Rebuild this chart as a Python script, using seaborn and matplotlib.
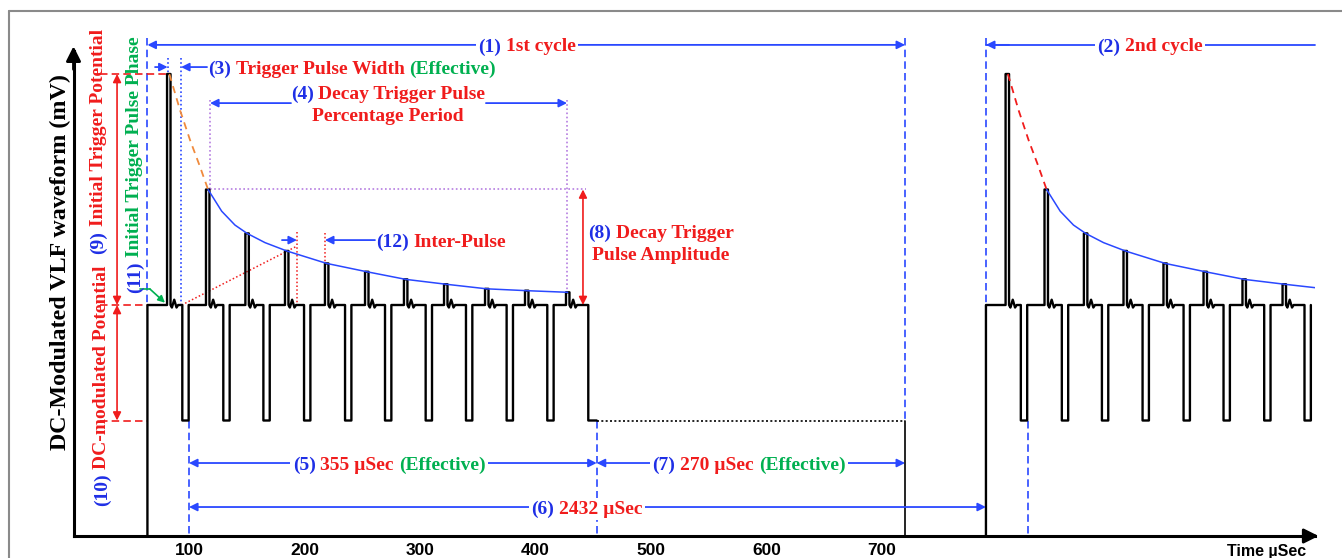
import numpy as np
import pandas as pd
import matplotlib
matplotlib.use("Agg")
import matplotlib.pyplot as plt
import seaborn as sns
from matplotlib.transforms import ScaledTranslation
from matplotlib.patches import Rectangle
from matplotlib.lines import Line2D

# ---------------- data (time in µSec, potential in mV-like units) ----------------
dc_level = 100
low_level = 50
cycle_starts = [64, 790]
peak_times = [81.0, 114.7, 148.8, 183.1, 217.7, 252.4, 286.1, 320.8, 356.3, 390.9, 426.4]
peak_heights = [200, 150, 131.0, 123.4, 118.0, 114.4, 111.1, 109.0, 107.0, 106.2, 105.5]
neg_times = [94.2, 129.7, 164.4, 199.6, 235.1, 269.7, 304.9, 339.8, 375.0, 410.2, 445.7]
pulse_width = 3.0
neg_width = 5.5
ring_dx = [1.2, 3.2, 5.2, 6.6]
ring_dy = [-1.1, 2.3, -1.1, 0.0]
burst_end = 453
cycle1_end = 720
cycle2_pulses = 8
axis_end_x = 1075
axis_end_y = 210
env_x = [116.5, 128.3, 139.8, 150.3, 165.8, 184.6, 219.2, 253.9, 287.6, 322.3, 357.8, 392.4, 427.9]
env_y = [150.0, 140.6, 134.6, 131.0, 127.0, 123.4, 118.0, 114.4, 111.1, 109.0, 107.0, 106.2, 105.5]
trig_x = [83.0, 92.2, 100.9, 109.5, 116.5]
trig_y = [200.0, 184.4, 171.4, 159.9, 150.0]
major_ticks = [100, 200, 300, 400, 500, 600, 700]
minor_ticks = [25, 50, 75, 125, 150, 175, 225, 250, 275, 325, 350, 375, 425, 450, 475,
               525, 550, 575, 625, 650, 675, 725]
tick_labels = ["100", "200", "300", "400", "500", "600", "700"]

# ---------------- style ----------------
sns.set_style("white")
SERIF = ["Liberation Serif", "DejaVu Serif"]
SANS = ["Liberation Sans", "DejaVu Sans"]
plt.rcParams["font.family"] = SERIF
BL = "#2a48ff"
BT = "#1f2fe6"
RD = "#f01c1c"
GN = "#00b050"
OR = "#f08a3c"
PU = "#b57de0"
FS = 14

fig = plt.figure(figsize=(13.42, 5.58), dpi=100)
ax = fig.add_axes([0, 0, 1, 1])
ax.set_xlim(-63.64, 1098.27)
ax.set_ylim(-9.52, 232.03)
DPI = fig.dpi

# ---------------- waveform ----------------
def build_cycle(start, n, tail):
    shift = start - cycle_starts[0]
    t = [start, start]
    v = [0, dc_level]
    for k in range(n):
        p = peak_times[k] + shift
        t += [p, p, p + pulse_width, p + pulse_width]
        v += [dc_level, peak_heights[k], peak_heights[k], dc_level]
        t += [p + pulse_width + d for d in ring_dx]
        v += [dc_level + d for d in ring_dy]
        q = neg_times[k] + shift
        if tail and k == n - 1:
            t += [q, q, burst_end]
            v += [dc_level, low_level, low_level]
        else:
            t += [q, q, q + neg_width, q + neg_width]
            v += [dc_level, low_level, low_level, dc_level]
    return t, v

frames = []
t1, v1 = build_cycle(cycle_starts[0], len(peak_times), True)
frames.append(pd.DataFrame({"t": t1, "mv": v1, "cycle": 1}))
t2, v2 = build_cycle(cycle_starts[1], cycle2_pulses, False)
frames.append(pd.DataFrame({"t": t2, "mv": v2, "cycle": 2}))
wave = pd.concat(frames, ignore_index=True)

sns.lineplot(data=wave, x="t", y="mv", units="cycle", estimator=None, sort=False,
             color="black", lw=1.7, ax=ax, legend=False, zorder=3)
ax.plot([burst_end, cycle1_end], [low_level, low_level], color="black", lw=1.2,
        ls=(0, (1.2, 1.4)), zorder=3)
ax.plot([cycle1_end, cycle1_end], [low_level, 0], color="black", lw=1.2, zorder=3)

# envelopes
shift2 = cycle_starts[1] - cycle_starts[0]
ax.plot(env_x, env_y, color=BL, lw=1.1, zorder=4)
ax.plot(trig_x, trig_y, color=OR, lw=1.3, ls=(0, (4, 3)), zorder=4)
env2, = ax.plot([x + shift2 for x in env_x], env_y, color=BL, lw=1.1, zorder=4)
env2.set_clip_path(Rectangle((0, 0), axis_end_x, 230, transform=ax.transData))
ax.plot([x + shift2 for x in trig_x], trig_y, color=RD, lw=1.3, ls=(0, (4, 3)), zorder=4)

# ---------------- axes ----------------
ax.set_xlabel("")
ax.set_ylabel("")
for s in ["top", "right"]:
    ax.spines[s].set_visible(False)
ax.spines["bottom"].set_position(("data", 0))
ax.spines["left"].set_position(("data", 0))
ax.spines["bottom"].set_bounds(0, axis_end_x)
ax.spines["left"].set_bounds(0, axis_end_y)
for s in ["bottom", "left"]:
    ax.spines[s].set_color("black")
    ax.spines[s].set_linewidth(2.2)
ax.set_xticks(major_ticks)
ax.set_xticklabels(tick_labels)
ax.set_xticks(minor_ticks, minor=True)
ax.set_yticks([])
ax.tick_params(axis="x", which="major", direction="inout", length=8, width=1.6, pad=1,
               labelsize=12.5, colors="black")
ax.tick_params(axis="x", which="minor", direction="out", length=4, width=1.6)
for lbl in ax.get_xticklabels():
    lbl.set_fontfamily(SANS)
    lbl.set_fontweight("bold")
ax.annotate("", xy=(axis_end_x + 3, 0), xytext=(axis_end_x - 10, 0),
            arrowprops=dict(arrowstyle="-|>", color="black", lw=2, mutation_scale=22,
                            shrinkA=0, shrinkB=0), annotation_clip=False)
ax.annotate("", xy=(0, axis_end_y + 2), xytext=(0, axis_end_y - 8),
            arrowprops=dict(arrowstyle="-|>", color="black", lw=2, mutation_scale=22,
                            shrinkA=0, shrinkB=0), annotation_clip=False)
ax.text(-11.7, 118.6, "DC-Modulated VLF waveform (mV)", rotation=90, ha="center",
        va="center", fontsize=17.3, fontweight="bold", family=SERIF, color="black")
ax.text(1067, -6.5, "Time µSec", ha="right", va="center", fontsize=11.5,
        fontweight="bold", family=SANS, color="black")

# ---------------- helpers ----------------
def arrow(x0, y0, x1, y1, color=BL, style="-|>", lw=1.3, ms=12):
    ax.annotate("", xy=(x1, y1), xytext=(x0, y0),
                arrowprops=dict(arrowstyle=style, color=color, lw=lw, mutation_scale=ms,
                                shrinkA=0, shrinkB=0), zorder=5)

def vline(x, y0, y1, color=BL, ls=(0, (4.5, 2.5)), lw=1.2):
    ax.plot([x, x], [y0, y1], color=color, ls=ls, lw=lw, zorder=2)

def hline(y, x0, x1, color=BL, ls=(0, (4.5, 2.5)), lw=1.2):
    ax.plot([x0, x1], [y, y], color=color, ls=ls, lw=lw, zorder=2)

renderer = fig.canvas.get_renderer()

def mtext(x, y, parts, ha="center", rot=0, size=FS, white=False):
    texts = []
    for s, c in parts:
        kw = dict(color=c, fontsize=size, fontweight="bold", family=SERIF, rotation=rot,
                  rotation_mode="anchor", ha="left", va="center_baseline", zorder=6)
        if white:
            kw["bbox"] = dict(fc="white", ec="none", pad=1.8)
        texts.append(ax.text(x, y, s, **kw))
    lens = []
    for t in texts:
        bb = t.get_window_extent(renderer)
        lens.append(bb.height if rot else bb.width)
    gap = size * 0.25 * DPI / 72
    total = sum(lens) + gap * (len(lens) - 1)
    off = -total / 2 if ha == "center" else 0.0
    for t, L in zip(texts, lens):
        if rot:
            tr = ScaledTranslation(0, off / DPI, fig.dpi_scale_trans)
        else:
            tr = ScaledTranslation(off / DPI, 0, fig.dpi_scale_trans)
        t.set_transform(ax.transData + tr)
        off += L + gap

# ---------------- annotations ----------------
top_y = 212.6
# dashed cycle markers
vline(cycle_starts[0], 215.6, dc_level)
vline(cycle1_end, 215.6, low_level)
vline(cycle_starts[1], 215.6, dc_level)
vline(100, low_level, 0)
vline(burst_end, low_level, 0)
vline(cycle_starts[1] + 36, low_level, 0)

# (1) and (2)
arrow(cycle_starts[0], top_y, cycle1_end, top_y, style="<|-|>")
mtext(392.6, top_y, [("(1)", BT), ("1st cycle", RD)], white=True)
ax.plot([cycle_starts[1], axis_end_x], [top_y, top_y], color=BL, lw=1.3)
arrow(cycle_starts[1] + 20, top_y, cycle_starts[1], top_y)
mtext(932, top_y, [("(2)", BT), ("2nd cycle", RD)], white=True)

# (3) trigger pulse width
vline(93.1, 207, dc_level, ls=(0, (1, 1.5)))
vline(81.5, 207, 200, ls=(0, (1, 1.5)))
arrow(70.6, 203, 81.5, 203)
arrow(115.6, 203, 93.1, 203)
mtext(116.5, 203, [("(3)", BT), ("Trigger Pulse Width", RD), ("(Effective)", GN)], ha="left")

# (4) decay trigger pulse percentage period
vline(118.2, 188.7, 150, color=PU, ls=(0, (1, 1.5)))
vline(427.3, 188.7, 105.5, color=PU, ls=(0, (1, 1.5)))
hline(150, 118.2, 443.7, color=PU, ls=(0, (1, 1.5)))
arrow(188.3, 187.4, 118.2, 187.4)
arrow(357.1, 187.4, 427.3, 187.4)
mtext(272.3, 192.2, [("(4)", BT), ("Decay Trigger Pulse", RD)])
mtext(272.3, 182.5, [("Percentage Period", RD)])

# (8) decay trigger pulse amplitude
arrow(441.1, 150, 441.1, dc_level, color=RD, style="<|-|>", lw=1.2)
mtext(508.7, 132.0, [("(8)", BT), ("Decay Trigger", RD)])
mtext(508.7, 122.5, [("Pulse Amplitude", RD)])

# (12) inter-pulse
vline(193.5, 131.6, 101, color=RD, ls=(0, (1, 1.5)), lw=1.1)
vline(217.7, 131.0, 118, color=RD, ls=(0, (1, 1.5)), lw=1.1)
ax.plot([93.7, 193.5], [dc_level, 125.5], color=RD, ls=(0, (1, 1.5)), lw=1.1, zorder=2)
arrow(180.5, 128.1, 193.5, 128.1)
arrow(261.0, 128.1, 217.7, 128.1)
mtext(262.0, 128.1, [("(12)", BT), ("Inter-Pulse", RD)], ha="left")

# (9), (10), (11) left labels
hline(200, 22.9, 81.0, color=RD)
hline(dc_level, 22.9, cycle_starts[0], color=RD)
hline(low_level, 22.9, cycle_starts[0], color=RD)
arrow(37.7, 200, 37.7, dc_level, color=RD, style="<|-|>", lw=1.2)
arrow(37.7, dc_level, 37.7, low_level, color=RD, style="<|-|>", lw=1.2)
mtext(19.9, 170.8, [("(9)", BT), ("Initial Trigger Potential", RD)], rot=90)
mtext(22.9, 65.0, [("(10)", BT), ("DC-modulated Potential", RD)], rot=90)
mtext(51.5, 160.7, [("(11)", BT), ("Initial Trigger Pulse Phase", GN)], rot=90)
ax.plot([57.6, 66.2], [106.9, 106.9], color=GN, lw=1.2, zorder=5)
arrow(66.2, 106.9, 79.2, 101.0, color=GN, lw=1.2, ms=10)

# bottom spans (5), (6), (7)
y5 = 31.6
y6 = 12.55
arrow(100, y5, burst_end, y5, style="<|-|>")
arrow(burst_end, y5, cycle1_end, y5, style="<|-|>")
arrow(100, y6, cycle_starts[1], y6, style="<|-|>")
mtext(273.2, y5, [("(5)", BT), ("355 µSec", RD), ("(Effective)", GN)], white=True)
mtext(584.8, y5, [("(7)", BT), ("270 µSec", RD), ("(Effective)", GN)], white=True)
mtext(444.6, y6, [("(6)", BT), ("2432 µSec", RD)], white=True)

# outer frame
fx = 9.3 / 1342
fy = 1 - 10.7 / 558
fig.add_artist(Line2D([fx, fx], [0, fy], transform=fig.transFigure, color="#8a8a8a", lw=1.5))
fig.add_artist(Line2D([fx, 1], [fy, fy], transform=fig.transFigure, color="#8a8a8a", lw=1.5))

fig.savefig("out.png", dpi=100)
